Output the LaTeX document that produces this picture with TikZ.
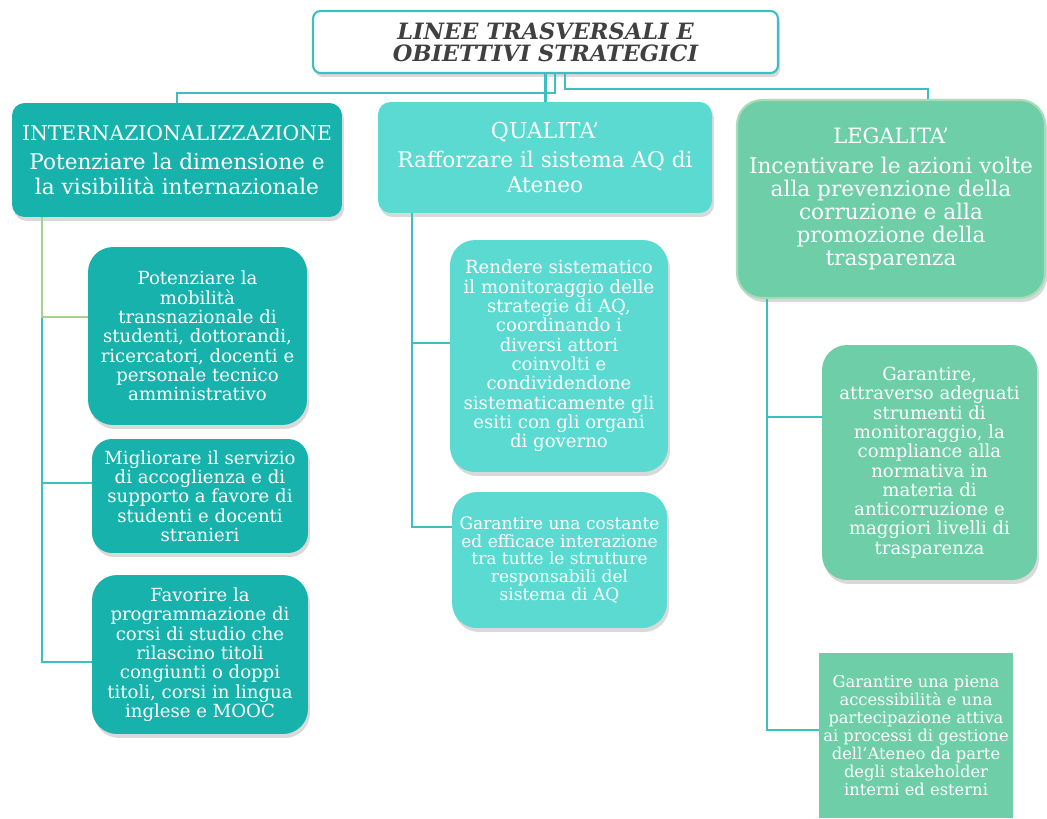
\documentclass[tikz,border=0pt]{standalone}
\usepackage{fontspec}
\setmainfont{DejaVu Serif}
\usepackage{xcolor}
\usepackage{tikz}
\usetikzlibrary{shadows}
\definecolor{tealdark}{HTML}{18B2AD}
\definecolor{teallight}{HTML}{5BDAD1}
\definecolor{mint}{HTML}{6ECEA8}
\definecolor{mintedge}{HTML}{A6DDB8}
\definecolor{linecol}{HTML}{3DBFC0}
\definecolor{leaf}{HTML}{A9D18E}
\tikzset{
  box/.style={rectangle, rounded corners=0.5cm, align=center, text=white, inner sep=2pt,
    drop shadow={opacity=0.3, shadow xshift=0.04cm, shadow yshift=-0.08cm}},
  head/.style={box, rounded corners=0.25cm, font=\fontsize{12.3}{14.2}\selectfont},
  small/.style={font=\fontsize{10.3}{11}\selectfont},
  tiny/.style={font=\fontsize{9.7}{10.2}\selectfont},
  link/.style={draw=linecol, line width=1.2pt},
}

\begin{document}
\begin{tikzpicture}[x=0.02cm, y=-0.02cm]
    \useasboundingbox (0,0) rectangle (1047,818);
    % title
    \node[box, fill=white, draw=linecol, line width=1.2pt, rounded corners=0.15cm, text=black!75,
      minimum width=9.3cm, minimum height=1.24cm,
      font=\bfseries\itshape\fontsize{12.8}{12.5}\selectfont] (top) at (545.5,42)
      {LINEE TRASVERSALI E\\OBIETTIVI STRATEGICI};
    % main lines
    \node[head, fill=tealdark, minimum width=6.6cm, minimum height=2.28cm] (int) at (177,160)
      {{\fontsize{11.6}{14}\selectfont INTERNAZIONALIZZAZIONE}\\[2pt]Potenziare la dimensione e\\la visibilità internazionale};
    \node[head, fill=teallight, minimum width=6.68cm, minimum height=2.22cm] (qual) at (545,157.5)
      {{\fontsize{12.5}{14}\selectfont QUALITA’}\\[2pt]Rafforzare il sistema AQ di\\Ateneo};
    \node[head, fill=mint, draw=mintedge, line width=1.2pt, rounded corners=0.5cm,
      minimum width=6.16cm, minimum height=3.96cm, font=\fontsize{12.3}{13}\selectfont] (leg) at (891,199)
      {{\fontsize{12}{14}\selectfont LEGALITA’}\\[4pt]Incentivare le azioni volte\\alla prevenzione della\\corruzione e alla\\promozione della\\trasparenza};
    % internazionalizzazione
    \node[box, small, fill=tealdark, minimum width=4.38cm, minimum height=3.56cm] (i1) at (197.5,336)
      {Potenziare la\\mobilità\\transnazionale di\\studenti, dottorandi,\\ricercatori, docenti e\\personale tecnico\\amministrativo};
    \node[box, small, fill=tealdark, rounded corners=0.4cm, minimum width=4.32cm, minimum height=2.28cm] (i2) at (200,496)
      {Migliorare il servizio\\di accoglienza e di\\supporto a favore di\\studenti e docenti\\stranieri};
    \node[box, small, fill=tealdark, minimum width=4.32cm, minimum height=3.18cm] (i3) at (200,654.5)
      {Favorire la\\programmazione di\\corsi di studio che\\rilascino titoli\\congiunti o doppi\\titoli, corsi in lingua\\inglese e MOOC};
    % qualita
    \node[box, small, fill=teallight, minimum width=4.36cm, minimum height=4.64cm] (q1) at (559,356)
      {Rendere sistematico\\il monitoraggio delle\\strategie di AQ,\\coordinando i\\diversi attori\\coinvolti e\\condividendone\\sistematicamente gli\\esiti con gli organi\\di governo};
    \node[box, tiny, fill=teallight, minimum width=4.3cm, minimum height=2.72cm] (q2) at (559.5,560)
      {Garantire una costante\\ed efficace interazione\\tra tutte le strutture\\responsabili del\\sistema di AQ};
    % legalita
    \node[box, small, fill=mint, minimum width=4.3cm, minimum height=4.7cm] (l1) at (929.5,462.5)
      {Garantire,\\attraverso adeguati\\strumenti di\\monitoraggio, la\\compliance alla\\normativa in\\materia di\\anticorruzione e\\maggiori livelli di\\trasparenza};
    \node[rectangle, align=center, text=white, fill=mint, inner sep=0.5pt, font=\fontsize{9.3}{10.2}\selectfont,
      minimum width=3.88cm, minimum height=3.3cm] (l2) at (916,735.5)
      {Garantire una piena\\accessibilità e una\\partecipazione attiva\\ai processi di gestione\\dell’Ateneo da parte\\degli stakeholder\\interni ed esterni};
    % connectors
    \draw[link] ([xshift=0.19cm]top.south) -- ++(0,19) -| (int.north);
    \draw[link] (top.south) -- (top.south |- qual.north);
    \draw[link] ([xshift=0.39cm]top.south) -- ++(0,15) -| ([xshift=0.74cm]leg.north);
    \coordinate (ispine) at ([xshift=0.6cm]int.south west);
    \coordinate (mspine) at ([xshift=0.68cm]qual.south west);
    \coordinate (lspine) at ([xshift=0.62cm]leg.south west);
    \draw[link] (ispine) |- ([yshift=-0.15cm]i3.west);
    \draw[link] (ispine) |- ([yshift=0.26cm]i2.west);
    \draw[link, draw=leaf] (ispine) |- ([yshift=0.38cm]i1.west);
    \draw[link] (mspine) |- ([yshift=0.66cm]q2.west);
    \draw[link] (mspine) |- ([yshift=0.26cm]q1.west);
    \draw[link] (lspine) |- ([yshift=0.11cm]l2.west);
    \draw[link] (lspine) |- ([yshift=0.91cm]l1.west);
\end{tikzpicture}
\end{document}
